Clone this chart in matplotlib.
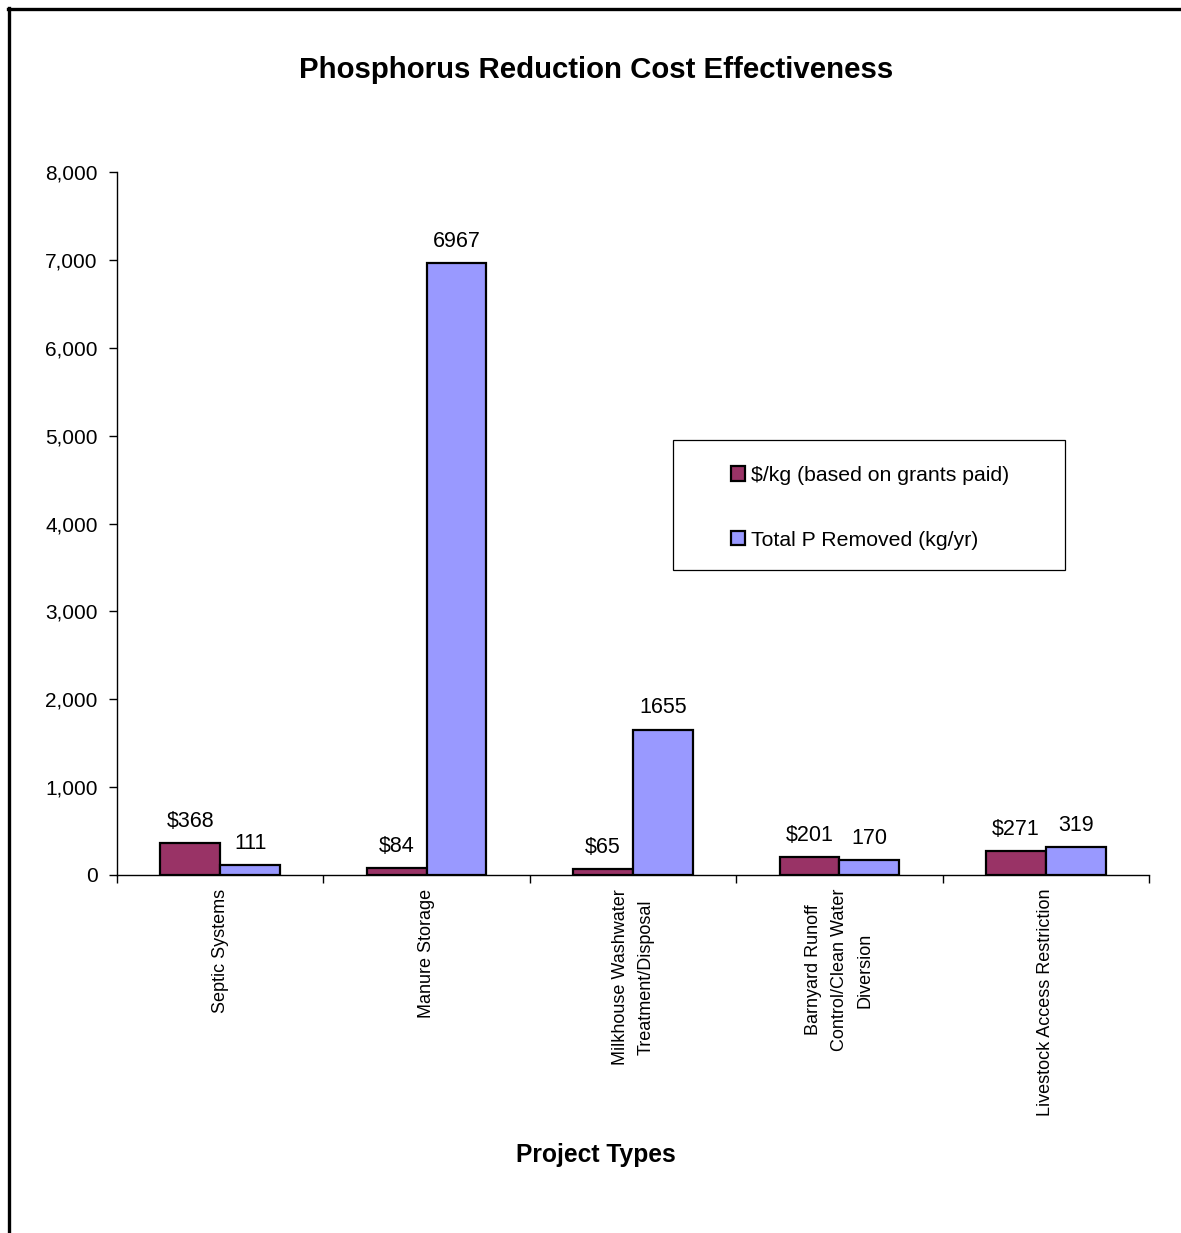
import numpy as np
import matplotlib
matplotlib.use('Agg')
import matplotlib.pyplot as plt
from matplotlib.patches import Rectangle, Patch
from matplotlib.lines import Line2D

plt.rcParams['font.family'] = ['Liberation Sans', 'DejaVu Sans']

categories = ['Septic Systems', 'Manure Storage', 'Milkhouse Washwater\nTreatment/Disposal',
              'Barnyard Runoff\nControl/Clean Water\nDiversion', 'Livestock Access Restriction']
cost_per_kg = [368, 84, 65, 201, 271]
p_removed = [111, 6967, 1655, 170, 319]
series_names = ['$/kg (based on grants paid)', 'Total P Removed (kg/yr)']
yticks = [0, 1000, 2000, 3000, 4000, 5000, 6000, 7000, 8000]

red = '#993366'
blue = '#9999FF'

W, H = 1181, 1233
fig = plt.figure(figsize=(W / 100, H / 100), dpi=100)
ax = fig.add_axes([117 / W, 1 - 875 / H, (1149 - 117) / W, (875 - 172) / H])

x = np.arange(len(categories))
bw = 0.29
b1 = ax.bar(x - bw / 2, cost_per_kg, bw, color=red, edgecolor='black', linewidth=1.6)
b2 = ax.bar(x + bw / 2, p_removed, bw, color=blue, edgecolor='black', linewidth=1.6)

for rect, v in zip(b1, cost_per_kg):
    ax.annotate(f'${v}', (rect.get_x() + rect.get_width() / 2, v), xytext=(0, 8),
                textcoords='offset points', ha='center', va='bottom', fontsize=15.5)
for rect, v in zip(b2, p_removed):
    ax.annotate(f'{v}', (rect.get_x() + rect.get_width() / 2, v), xytext=(0, 8),
                textcoords='offset points', ha='center', va='bottom', fontsize=15.5)

ax.set_xlim(-0.5, len(categories) - 0.5)
ax.set_ylim(0, 8000)
ax.set_yticks(yticks)
ax.set_yticklabels([f'{t:,}' for t in yticks], fontsize=15)
ax.tick_params(axis='y', direction='out', length=6, width=1, pad=8)

ax.set_xticks(x)
ax.set_xticklabels(categories, rotation=90, fontsize=13,
                   va='top', ha='center', multialignment='center', linespacing=1.65)
ax.tick_params(axis='x', which='major', length=0, pad=10)
ax.set_xticks(np.arange(len(categories) + 1) - 0.5, minor=True)
ax.tick_params(axis='x', which='minor', direction='out', length=6, width=1)

for s in ['top', 'right']:
    ax.spines[s].set_visible(False)
ax.spines['left'].set_linewidth(1)
ax.spines['bottom'].set_linewidth(1)
ax.set_facecolor('none')

fig.text(596 / W, 1 - 70 / H, 'Phosphorus Reduction Cost Effectiveness',
         ha='center', va='center', fontsize=21.2, fontweight='bold')
fig.text(596 / W, 1 - 1155 / H, 'Project Types',
         ha='center', va='center', fontsize=17.7, fontweight='bold')

# legend box
fig.patches.append(Rectangle((673 / W, 1 - 570 / H), (1065 - 673) / W, (570 - 440) / H,
                             transform=fig.transFigure, facecolor='white',
                             edgecolor='black', linewidth=0.9))
handles = [Patch(facecolor=red, edgecolor='black', linewidth=1.6),
           Patch(facecolor=blue, edgecolor='black', linewidth=1.6)]
fig.legend(handles, series_names, loc='upper left',
           bbox_to_anchor=(731 / W, 1 - 466 / H), frameon=False, fontsize=15.3,
           handlelength=0.65, handleheight=0.65, handletextpad=0.3,
           labelspacing=2.15, borderpad=0, borderaxespad=0)

# outer frame, cut off at right and bottom
fig.add_artist(Line2D([8 / W, 1], [1 - 9 / H, 1 - 9 / H], transform=fig.transFigure,
                      color='black', linewidth=2.4))
fig.add_artist(Line2D([9 / W, 9 / W], [0, 1 - 8 / H], transform=fig.transFigure,
                      color='black', linewidth=2.4))

fig.savefig('out.png', dpi=100)
